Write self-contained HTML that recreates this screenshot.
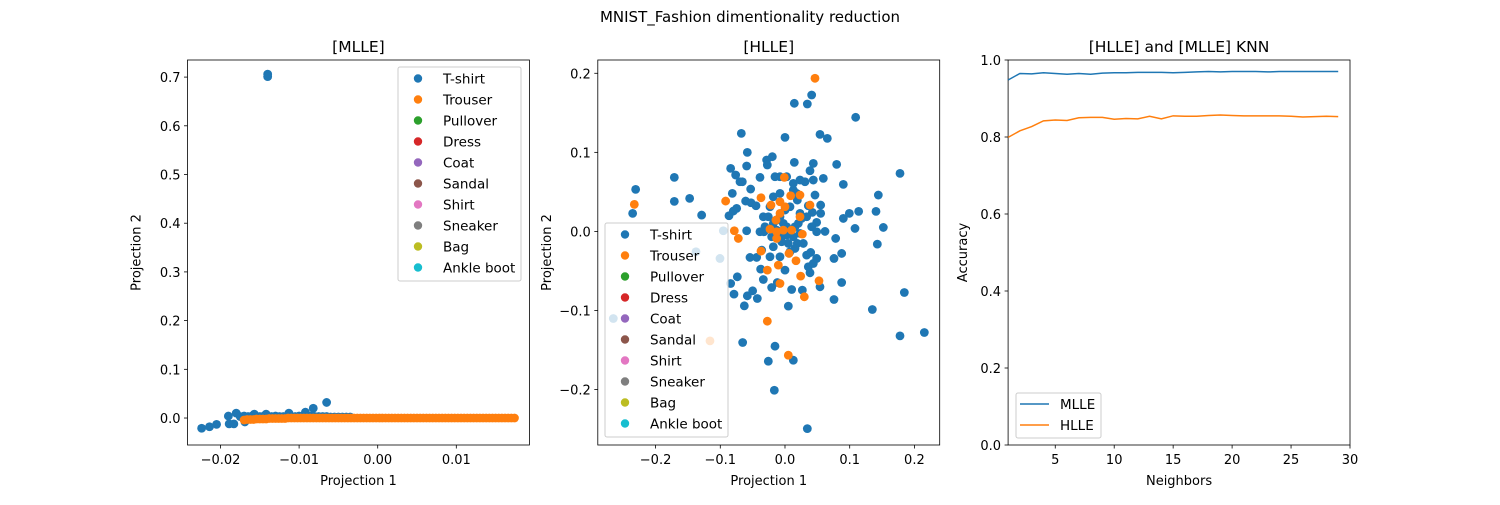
<!DOCTYPE html>
<html><head><meta charset="utf-8"><style>
body{margin:0;background:#fff;}
svg{font-family:"DejaVu Sans","Liberation Sans",sans-serif;}
</style></head><body>
<svg id="fig" width="1500" height="500" viewBox="0 0 1500 500" xmlns="http://www.w3.org/2000/svg">
<rect width="1500" height="500" fill="#fff"/>
<text x="750" y="22" font-size="15" text-anchor="middle">MNIST_Fashion dimentionality reduction</text>
</svg>
<script>
// ---- MLLE data ----
const mlleBlueX=[-0.014,-0.014,-0.0224,-0.0214,-0.0205,-0.019,-0.018,-0.0189,-0.0183,-0.0169,-0.0157,-0.0142,-0.0113,-0.0092,-0.0082,-0.0065,-0.0175,-0.017,-0.0165,-0.016,-0.0155,-0.015,-0.0145,-0.014,-0.0135,-0.013,-0.0125,-0.012,-0.0115,-0.011,-0.0105,-0.01,-0.0095,-0.009,-0.0085,-0.008,-0.0075,-0.007,-0.0065,-0.006,-0.0055,-0.005,-0.0045,-0.004,-0.0035];
const mlleBlueY=[0.706,0.701,-0.021,-0.018,-0.013,0.004,0.01,-0.012,-0.012,-0.008,0.008,0.008,0.01,0.012,0.02,0.032,0.003,0.004,0.003,0.004,0.003,0.003,0.004,0.003,0.003,0.004,0.003,0.003,0.004,0.003,0.003,0.004,0.003,0.003,0.004,0.003,0.003,0.003,0.003,0.002,0.002,0.002,0.002,0.002,0.002];
const mlleOrangeX=[-0.0170,-0.0166,-0.0162,-0.0158,-0.0154,-0.0150,-0.0146,-0.0142,-0.0138,-0.0134,-0.0130,-0.0126,-0.0122,-0.0118,-0.0114,-0.0110,-0.0106,-0.0102,-0.0098,-0.0094,-0.0090,-0.0086,-0.0082,-0.0078,-0.0074,-0.0070,-0.0066,-0.0062,-0.0058,-0.0054,-0.0050,-0.0046,-0.0042,-0.0038,-0.0034,-0.0030,-0.0026,-0.0022,-0.0018,-0.0014,-0.0010,-0.0006,-0.0002,0.0002,0.0006,0.0010,0.0014,0.0018,0.0022,0.0026,0.0030,0.0034,0.0038,0.0042,0.0046,0.0050,0.0054,0.0058,0.0062,0.0066,0.0070,0.0074,0.0078,0.0082,0.0086,0.0090,0.0094,0.0098,0.0102,0.0106,0.0110,0.0114,0.0118,0.0122,0.0126,0.0130,0.0134,0.0138,0.0142,0.0146,0.0150,0.0154,0.0158,0.0162,0.0166,0.0170,0.0174];
const mlleOrangeY=[-0.004,-0.003,-0.003,-0.003,-0.002,-0.002,-0.002,-0.002,-0.001,-0.001,-0.001,-0.001,-0.001,-0.001,0,0,0,0,0,0,0,0,0,0,0,0,0,0,0,0,0,0,0,0,0,0,0,0,0,0,0,0,0,0,0,0,0,0,0,0,0,0,0,0,0,0,0,0,0,0,0,0,0,0,0,0,0,0,0,0,0,0,0,0,0,0,0,0,0,0,0,0,0,0,0,0,0];
const mlleXTicks=[-0.02,-0.01,0.00,0.01];
const mlleXLabels=["\u22120.02","\u22120.01","0.00","0.01"];
const mlleYTicks=[0,0.1,0.2,0.3,0.4,0.5,0.6,0.7];
const mlleYLabels=["0.0","0.1","0.2","0.3","0.4","0.5","0.6","0.7"];
// ---- HLLE data (read in zoom coords, converted via functions below) ----
const hlleBlueZ=[[227,418],[218,490],[343,382],[343,454],[389,445],[425,495],[544,250],[562,307],[560,348],[512,355],[527,375],[540,395],[547,395],[517,430],[572,417],[507,497],[520,483],[530,475],[557,453],[573,458],[588,467],[600,382],[620,330],[637,320],[622,345],[675,262],[703,160],[742,162],[755,135],[780,253],[802,265],[703,337],[760,340],[750,362],[735,395],[760,390],[790,385],[830,343],[850,403],[887,202],[1020,370],[955,435],[948,484],[970,532],[885,535],[850,505],[868,490],[896,484],[952,582],[827,565],[795,544],[770,517],[765,435],[782,465],[782,490],[757,487],[745,467],[712,450],[700,420],[680,380],[660,380],[645,380],[610,500],[600,545],[612,545],[560,542],[605,600],[570,622],[590,622],[602,657],[610,688],[635,712],[652,697],[675,660],[695,718],[727,720],[780,710],[822,625],[845,610],[845,697],[822,748],[750,668],[745,650],[760,640],[770,625],[740,615],[752,607],[712,580],[685,580],[680,555],[660,560],[640,590],[630,620],[660,620],[690,605],[700,560],[720,550],[640,520],[650,510],[660,500],[675,480],[690,470],[710,430],[720,490],[740,500],[755,530],[770,545],[630,470],[640,440],[660,430],[700,400],[720,390],[532,680],[522,732],[553,767],[562,737],[578,722],[592,745],[685,768],[548,877],[645,888],[625,933],[700,930],[643,1020],[742,1135],[937,778],[1020,857],[1093,847],[1033,727],[670,520],[680,530],[690,540],[705,530],[715,520],[725,505],[650,540],[635,560],[665,575],[705,595],[730,580],[625,500],[615,530],[490,542],[408,605],[480,625],[512,700],[160,805]];
const hlleOrangeZ=[[765,85],[673,382],[603,443],[497,453],[223,463],[523,542],[535,565],[633,465],[660,455],[675,470],[692,437],[720,435],[750,465],[720,500],[630,537],[650,545],[670,540],[695,540],[727,552],[650,565],[660,490],[648,510],[603,603],[687,610],[708,632],[622,660],[655,645],[660,700],[722,678],[777,692],[733,740],[622,813],[685,915],[450,872]];
const hlleXTicks=[-0.2,-0.1,0,0.1,0.2];
const hlleXLabels=["\u22120.2","\u22120.1","0.0","0.1","0.2"];
const hlleYTicks=[-0.2,-0.1,0,0.1,0.2];
const hlleYLabels=["\u22120.2","\u22120.1","0.0","0.1","0.2"];
// ---- KNN data ----
const knnK=[1,2,3,4,5,6,7,8,9,10,11,12,13,14,15,16,17,18,19,20,21,22,23,24,25,26,27,28,29];
const knnMLLE=[0.948,0.965,0.964,0.967,0.965,0.963,0.965,0.963,0.966,0.967,0.967,0.968,0.968,0.968,0.967,0.968,0.969,0.970,0.969,0.970,0.970,0.970,0.969,0.970,0.970,0.970,0.970,0.970,0.970];
const knnHLLE=[0.799,0.816,0.827,0.842,0.844,0.843,0.850,0.851,0.851,0.846,0.848,0.847,0.854,0.847,0.855,0.854,0.854,0.856,0.857,0.856,0.855,0.855,0.855,0.855,0.854,0.852,0.853,0.854,0.853];
const knnXTicks=[5,10,15,20,25,30];
const knnYTicks=[0,0.2,0.4,0.6,0.8,1.0];
const knnYLabels=["0.0","0.2","0.4","0.6","0.8","1.0"];
const classes=["T-shirt","Trouser","Pullover","Dress","Coat","Sandal","Shirt","Sneaker","Bag","Ankle boot"];
const colors=["#1f77b4","#ff7f0e","#2ca02c","#d62728","#9467bd","#8c564b","#e377c2","#7f7f7f","#bcbd22","#17becf"];

const NS="http://www.w3.org/2000/svg";
const fig=document.getElementById('fig');
function mk(tag,attrs,parent,text){const e=document.createElementNS(NS,tag);for(const k in attrs)e.setAttribute(k,attrs[k]);if(text!==undefined)e.textContent=text;(parent||fig).appendChild(e);return e;}
const TOP=60,BOT=445;
function axes(name,L,R,xmin,xmax,ymin,ymax){
  const g=mk('g',{});
  
  
  return {g,L,R,sx:v=>L+(v-xmin)/(xmax-xmin)*(R-L),sy:v=>BOT-(v-ymin)/(ymax-ymin)*(BOT-TOP)};
}
function frame(a,title,xt,xl,yt,yl,xlab,ylab){
  const g=a.g;
  const f=mk('rect',{x:a.L,y:TOP,width:a.R-a.L,height:BOT-TOP,fill:'none',stroke:'#000','stroke-width':0.8},g);
  
  xt.forEach((v,i)=>{const x=a.sx(v);mk('line',{x1:x,x2:x,y1:BOT,y2:BOT+3.5,stroke:'#000','stroke-width':0.8},g);
    const t=mk('text',{x:x,y:BOT+19,'font-size':'13','text-anchor':'middle'},g,xl[i]);
    });
  yt.forEach((v,i)=>{const y=a.sy(v);mk('line',{x1:a.L,x2:a.L-3.5,y1:y,y2:y,stroke:'#000','stroke-width':0.8},g);
    const t=mk('text',{x:a.L-7,y:y+5,'font-size':'13','text-anchor':'end'},g,yl[i]);
    });
  const tt=mk('text',{x:(a.L+a.R)/2,y:TOP-8,'font-size':'15.5','text-anchor':'middle'},g,title);
  
  const xa=mk('text',{x:(a.L+a.R)/2,y:BOT+40,'font-size':'13','text-anchor':'middle'},g,xlab);
  
  const cy=(TOP+BOT)/2,cx=a.L-(ylab==='Accuracy'?41:47);
  const ya=mk('text',{x:cx,y:cy,'font-size':'13','text-anchor':'middle',transform:`rotate(-90 ${cx} ${cy})`},g,ylab);
  
}
function dot(a,x,y,c){const d=mk('circle',{cx:a.sx(x),cy:a.sy(y),r:4.4,fill:c},a.g);
  }
function scatterLegend(a,x,y){
  const lg=mk('g',{},a.g);
  
  mk('rect',{x:x,y:y,width:123,height:214,rx:2,fill:'#fff','fill-opacity':0.8,stroke:'#ccc'},lg);
  classes.forEach((c,i)=>{const yy=y+11.5+i*21;
    const e=mk('g',{},lg);
    
    mk('circle',{cx:x+20,cy:yy,r:4.2,fill:colors[i]},e);
    mk('text',{x:x+45,y:yy+5,'font-size':'13.5'},e,c);});
}
// MLLE
const a1=axes('mlle-plot',187.5,529.4,-0.0242,0.0193,-0.0554,0.7351);
frame(a1,'[MLLE]',mlleXTicks,mlleXLabels,mlleYTicks,mlleYLabels,'Projection 1','Projection 2');
mlleBlueX.forEach((x,i)=>dot(a1,x,mlleBlueY[i],colors[0]));
mlleOrangeX.forEach((x,i)=>dot(a1,x,mlleOrangeY[i],colors[1]));
scatterLegend(a1,398,67);
// HLLE
const a2=axes('hlle-plot',597.8,939.7,-0.2893,0.2391,-0.2701,0.2168);
frame(a2,'[HLLE]',hlleXTicks,hlleXLabels,hlleYTicks,hlleYLabels,'Projection 1','Projection 2');
const zx=z=>(z-675)/1941, zy=z=>(544-z)/2370;
hlleBlueZ.forEach(p=>dot(a2,zx(p[0]),zy(p[1]),colors[0]));
hlleOrangeZ.forEach(p=>dot(a2,zx(p[0]),zy(p[1]),colors[1]));
scatterLegend(a2,605,223);
// KNN
const a3=axes('knn-plot',1008.1,1350,1,30,0,1);
frame(a3,'[HLLE] and [MLLE] KNN',knnXTicks,knnXTicks.map(String),knnYTicks,knnYLabels,'Neighbors','Accuracy');
function line(vals,c,name){const p=mk('polyline',{points:knnK.map((k,i)=>a3.sx(k)+','+a3.sy(vals[i])).join(' '),fill:'none',stroke:c,'stroke-width':1.5},a3.g);
  }
line(knnMLLE,colors[0],'mlle-line');line(knnHLLE,colors[1],'hlle-line');
const lg3=mk('g',{},a3.g);

mk('rect',{x:1016,y:393,width:85,height:45,rx:2,fill:'#fff','fill-opacity':0.8,stroke:'#ccc'},lg3);
[['MLLE',colors[0]],['HLLE',colors[1]]].forEach((e,i)=>{const yy=404+i*21;
  const g=mk('g',{},lg3);
  
  mk('line',{x1:1020,x2:1049,y1:yy,y2:yy,stroke:e[1],'stroke-width':1.5},g);
  mk('text',{x:1060,y:yy+5,'font-size':'13.5'},g,e[0]);});
</script>
</body></html>
